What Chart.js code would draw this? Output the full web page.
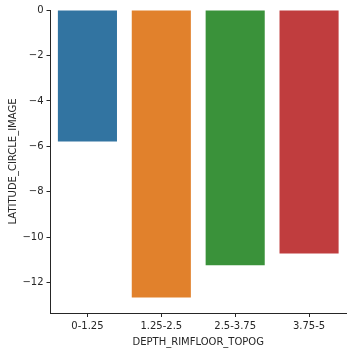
<!DOCTYPE html>
<html><head><meta charset="utf-8">
<script src="https://cdn.jsdelivr.net/npm/chart.js@4"></script>
<style>html,body{margin:0;padding:0;background:#fff}#w{width:352px;height:352px}</style>
</head><body><div id="w"><canvas id="c" width="352" height="352"></canvas></div>
<script>
const categories = ["0-1.25", "1.25-2.5", "2.5-3.75", "3.75-5"];
const values = [-5.79, -12.65, -11.23, -10.71];
const colors = ["#3274a1", "#e1812c", "#3a923a", "#c03d3e"];
const yTicks = [0, -2, -4, -6, -8, -10, -12];
const xTitle = "DEPTH_RIMFLOOR_TOPOG";
const yTitle = "LATITUDE_CIRCLE_IMAGE";

const txt = "#262626";
const font = {family: "DejaVu Sans", size: 10};
new Chart(document.getElementById("c"), {
  type: "bar",
  data: {labels: categories, datasets: [{data: values, backgroundColor: colors, borderWidth: 0, barPercentage: 0.8, categoryPercentage: 1}]},
  options: {
    responsive: false, animation: false, devicePixelRatio: 1,
    layout: {padding: {left: 0, top: 10, right: 6, bottom: 4}},
    plugins: {legend: {display: false}, tooltip: {enabled: false}},
    scales: {
      x: {
        grid: {display: true, offset: false, drawOnChartArea: false, drawTicks: true, tickLength: 4, color: txt, lineWidth: 1},
        border: {display: true, color: txt, width: 1},
        ticks: {color: txt, font: font, padding: 3, maxRotation: 0},
        title: {display: true, text: xTitle, color: txt, font: font, padding: {top: 2, bottom: 0}},
        afterFit: s => { s.height = 35; }
      },
      y: {
        min: -13.33, max: 0,
        afterBuildTicks: s => { s.ticks = yTicks.map(v => ({value: v})); },
        grid: {display: true, drawOnChartArea: false, drawTicks: true, tickLength: 4, color: txt, lineWidth: 1},
        border: {display: true, color: txt, width: 1},
        ticks: {color: txt, font: font, padding: 3, callback: v => String(v).replace("-", "\u2212")},
        title: {display: true, text: yTitle, color: txt, font: font, padding: {top: 7, bottom: 0}},
        afterFit: s => { s.width = 50.5; }
      }
    }
  }
});
</script></body></html>
